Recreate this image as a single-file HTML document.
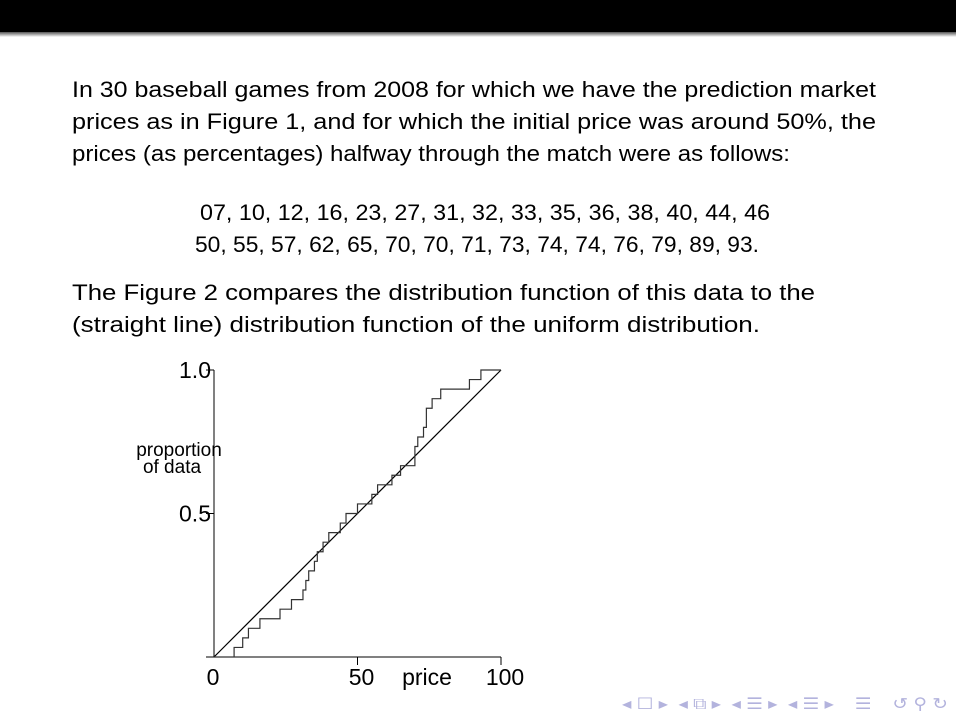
<!DOCTYPE html>
<html><head><meta charset="utf-8"><style>
body{margin:0;width:956px;height:718px;background:#fff;overflow:hidden;position:relative;font-family:"Liberation Sans","DejaVu Sans",sans-serif;color:#000}
.bar{position:absolute;left:0;top:0;width:956px;height:32px;background:#000}
.shade{position:absolute;left:0;top:32px;width:956px;height:5px;background:linear-gradient(#555,#fff)}
.t{position:absolute;font-size:22.5px;line-height:32px;white-space:nowrap;transform-origin:0 50%}
.nav{position:absolute;top:694px;left:622px;font-size:16px;color:#b3b3dd;white-space:nowrap;transform-origin:0 50%}
</style></head><body>
<div class="bar"></div>
<div class="shade"></div>
<div class="t" style="left:72px;top:74px" data-w="804">In 30 baseball games from 2008 for which we have the prediction market</div>
<div class="t" style="left:72px;top:106px" data-w="804">prices as in Figure 1, and for which the initial price was around 50%, the</div>
<div class="t" style="left:72px;top:138px" data-w="718">prices (as percentages) halfway through the match were as follows:</div>
<div class="t" style="left:200px;top:197px" data-w="570">07, 10, 12, 16, 23, 27, 31, 32, 33, 35, 36, 38, 40, 44, 46</div>
<div class="t" style="left:195px;top:229px" data-w="564">50, 55, 57, 62, 65, 70, 70, 71, 73, 74, 74, 76, 79, 89, 93.</div>
<div class="t" style="left:72px;top:277px" data-w="743">The Figure 2 compares the distribution function of this data to the</div>
<div class="t" style="left:72px;top:309px" data-w="688">(straight line) distribution function of the uniform distribution.</div>
<svg id="chart" width="956" height="718" style="position:absolute;left:0;top:0"></svg>
<div class="nav" data-w="326">◂ ☐ ▸ &nbsp;◂ ⧉ ▸ &nbsp;◂ ☰ ▸ &nbsp;◂ ☰ ▸ &nbsp;&nbsp; ☰ &nbsp;&nbsp; ↺ ⚲ ↻</div>
<script>
const prices=[7,10,12,16,23,27,31,32,33,35,36,38,40,44,46,50,55,57,62,65,70,70,71,73,74,74,76,79,89,93];
const xTicks=[0,50,100];
const yTicks=[0.5,1.0];
const yTickLabels=["0.5","1.0"];
const X0=214,X1=501,Y0=657,Y1=370;
const sx=v=>X0+(X1-X0)*v/100;
const sy=v=>Y0-(Y0-Y1)*v;
const svg=document.getElementById('chart');
const NS='http://www.w3.org/2000/svg';
function mk(tag,attrs,txt){const e=document.createElementNS(NS,tag);for(const k in attrs)e.setAttribute(k,attrs[k]);if(txt!==undefined)e.textContent=txt;svg.appendChild(e);return e;}
let a=mk('line',{x1:X0,y1:Y0,x2:X0,y2:Y1,stroke:'#000','stroke-width':1});

a=mk('line',{x1:X0-8,y1:Y0,x2:X1,y2:Y0,stroke:'#000','stroke-width':1});

yTicks.forEach((v,i)=>{
 let l=mk('line',{x1:X0-8,y1:sy(v),x2:X0,y2:sy(v),stroke:'#000'});
 
 let t=mk('text',{x:X0-3,y:sy(v)+8,'text-anchor':'end','font-size':23,'font-family':'Liberation Sans, sans-serif'},yTickLabels[i]);
 
});
xTicks.forEach(v=>{
 if(v>0){let l=mk('line',{x1:sx(v),y1:Y0,x2:sx(v),y2:Y0+8,stroke:'#000'});
 }
 let t=mk('text',{x:sx(v)+(v===0?-1:4),y:Y0+28,'text-anchor':'middle','font-size':23,'font-family':'Liberation Sans, sans-serif'},String(v));
 
});
let tt=mk('text',{x:427,y:685,'text-anchor':'middle','font-size':23,'font-family':'Liberation Sans, sans-serif'},'price');

tt=mk('text',{x:179,y:456,'text-anchor':'middle','font-size':19,'font-family':'Liberation Sans, sans-serif'},'proportion');

tt=mk('text',{x:172,y:473,'text-anchor':'middle','font-size':19,'font-family':'Liberation Sans, sans-serif'},'of data');

let d=mk('line',{x1:sx(0),y1:sy(0),x2:sx(100),y2:sy(1),stroke:'#000','stroke-width':1.2});

const n=prices.length;let p='M'+sx(0)+' '+sy(0);
prices.forEach((v,i)=>{p+=' H'+sx(v)+' V'+sy((i+1)/n);});
p+=' H'+sx(100);
let s=mk('path',{d:p,fill:'none',stroke:'#333','stroke-width':1.2});

document.querySelectorAll('[data-w]').forEach(el=>{
 const w=el.getBoundingClientRect().width;const tw=+el.getAttribute('data-w');
 if(w>0)el.style.transform='scaleX('+(tw/w)+')';
});
</script>
</body></html>
